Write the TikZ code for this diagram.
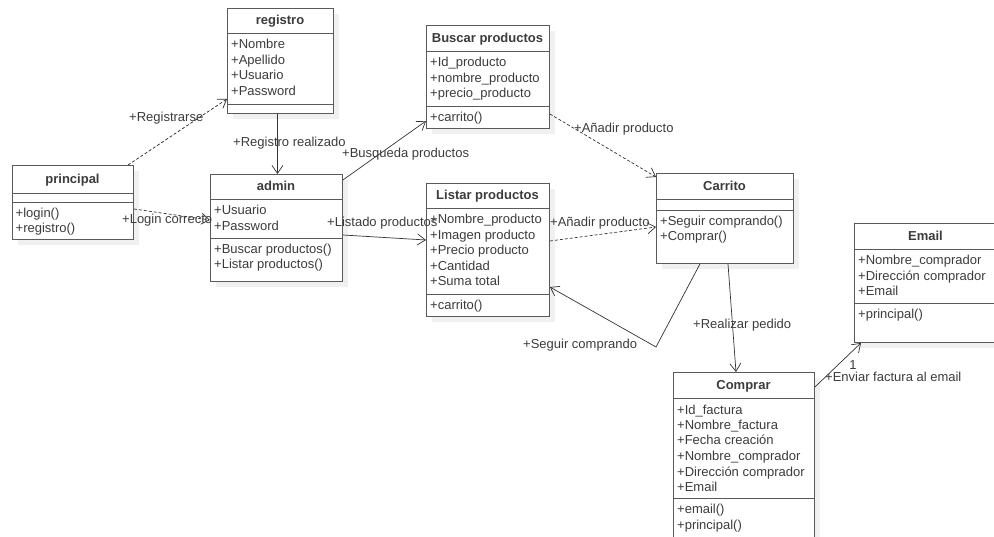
\documentclass[tikz,border=0pt]{standalone}
\usepackage{fontspec}
\setmainfont{Liberation Sans}
\usetikzlibrary{arrows.meta}
\definecolor{ln}{HTML}{5A5A5A}
\definecolor{tx}{HTML}{3C3C3C}
\definecolor{cn}{HTML}{333333}
\newcommand\umlmembers[4]{%
  \foreach \t [count=\i] in {#4} {\node[mem] (#1\i) at ({#2},{#3+15.5*(\i-1)}) {\t};}}
\begin{document}
\begin{tikzpicture}[x=1pt,y=-1pt,
  box/.style={draw=ln, line width=0.9pt, fill=white, inner sep=0, anchor=north west},
  div/.style={draw=ln, line width=0.9pt},
  ttl/.style={font=\fontsize{13}{15.5}\selectfont\bfseries, text=tx, inner sep=0, anchor=base},
  mem/.style={font=\fontsize{13}{15.5}\selectfont, text=tx, inner sep=0, anchor=base west},
  lbl/.style={font=\fontsize{13}{15.5}\selectfont, text=tx, inner sep=0, anchor=base west},
  con/.style={draw=cn, line width=0.7pt, -{Straight Barb[length=8pt,width=11pt]}},
  dep/.style={con, dash pattern=on 3pt off 2pt}]
\clip (0,0) rectangle (994,537);
\fill[white] (0,0) rectangle (994,537);
% shadows
\fill[black!6] (233,14) rectangle (339,119);
\fill[black!6] (18,171) rectangle (139,245);
\fill[black!6] (216,180) rectangle (348,287);
\fill[black!6] (432,31) rectangle (555,134);
\fill[black!6] (432,189) rectangle (555,322);
\fill[black!6] (662,179) rectangle (799,269);
\fill[black!6] (860,229) rectangle (1003,348);
\fill[black!6] (679,378) rectangle (820,560);
% registro
\node[box, minimum width=106pt, minimum height=105pt] (reg) at (227,8) {};
\draw[div] (227,33) -- (333,33);
\draw[div] (227,104) -- (333,104);
\node[ttl] (regT) at (280,25) {registro};
\umlmembers{regA}{231}{49}{+Nombre,+Apellido,+Usuario,+Password}
% principal
\node[box, minimum width=121pt, minimum height=74pt] (prin) at (12,165) {};
\draw[div] (12,193) -- (133,193);
\draw[div] (12,202) -- (133,202);
\node[ttl] (prinT) at (72.5,183.5) {principal};
\umlmembers{prinM}{15.5}{217.5}{+login(),+registro()}
% admin
\node[box, minimum width=132pt, minimum height=107pt] (adm) at (210,174) {};
\draw[div] (210,199) -- (342,199);
\draw[div] (210,238) -- (342,238);
\node[ttl] (admT) at (276,191) {admin};
\umlmembers{admA}{214}{215}{+Usuario,+Password}
\umlmembers{admM}{214}{253.5}{+Buscar productos(),+Listar productos()}
% Buscar productos
\node[box, minimum width=123pt, minimum height=103pt] (bus) at (426,25) {};
\draw[div] (426,51) -- (549,51);
\draw[div] (426,106) -- (549,106);
\node[ttl] (busT) at (487.5,42.5) {Buscar productos};
\umlmembers{busA}{430}{67}{+Id\_producto,+nombre\_producto,+precio\_producto}
\umlmembers{busM}{430}{121.5}{+carrito()}
% Listar productos
\node[box, minimum width=123pt, minimum height=133pt] (lis) at (426,183) {};
\draw[div] (426,208) -- (549,208);
\draw[div] (426,294) -- (549,294);
\node[ttl] (lisT) at (487.5,200) {Listar productos};
\umlmembers{lisA}{430}{224}{+Nombre\_producto,+Imagen producto,+Precio producto,+Cantidad,+Suma total}
\umlmembers{lisM}{430}{309.5}{+carrito()}
% Carrito
\node[box, minimum width=137pt, minimum height=90pt] (car) at (656,173) {};
\draw[div] (656,199) -- (793,199);
\draw[div] (656,210) -- (793,210);
\node[ttl] (carT) at (724.5,190.5) {Carrito};
\umlmembers{carM}{660}{225.5}{+Seguir comprando(),+Comprar()}
% Email
\node[box, minimum width=143pt, minimum height=119pt] (ema) at (854,223) {};
\draw[div] (854,249) -- (997,249);
\draw[div] (854,303) -- (997,303);
\node[ttl] (emaT) at (925.5,240.5) {Email};
\umlmembers{emaA}{858}{265}{+Nombre\_comprador,+Dirección comprador,+Email}
\umlmembers{emaM}{858}{318.5}{+principal()}
% Comprar
\node[box, minimum width=141pt, minimum height=176pt] (com) at (673,372) {};
\draw[div] (673,398) -- (814,398);
\draw[div] (673,498) -- (814,498);
\node[ttl] (comT) at (743.5,389.5) {Comprar};
\umlmembers{comA}{677}{414}{+Id\_factura,+Nombre\_factura,+Fecha creación,+Nombre\_comprador,+Dirección comprador,+Email}
\umlmembers{comM}{677}{513.5}{+email(),+principal()}
% connectors
\draw[dep] ([xshift=116pt]prin.north west) -- ([yshift=-91pt]reg.north west);
\draw[con] ([xshift=-3pt]reg.south) -- ([xshift=1pt]adm.north);
\draw[dep] ([yshift=-44pt]prin.north east) -- ([yshift=-46pt]adm.north west);
\draw[con] ([yshift=-6pt]adm.north east) -- ([yshift=-96pt]bus.north west);
\draw[con] ([yshift=-61pt]adm.north east) -- ([yshift=-57pt]lis.north west);
\draw[dep] ([yshift=-89pt]bus.north east) -- ([yshift=-4pt]car.north west);
\draw[dep] ([yshift=-58pt]lis.north east) -- ([yshift=-54pt]car.north west);
\coordinate (bend) at (656,347);
\draw[con] ([xshift=44pt]car.south west) -- (bend) -- ([yshift=-104pt]lis.north east);
\draw[con] ([xshift=72pt]car.south west) -- ([xshift=63pt]com.north west);
\draw[con] ([yshift=-15pt]com.north east) -- ([xshift=7pt]ema.south west);
% labels
\node[lbl] (l1) at (129,122) {+Registrarse};
\node[lbl] (l2) at (233,147) {+Registro realizado};
\node[lbl] (l3) at (122,224) {+Login correcto};
\node[lbl] (l4) at (342,157.5) {+Busqueda productos};
\node[lbl] (l5) at (327,226.5) {+Listado productos};
\node[lbl] (l6) at (574,133) {+Añadir producto};
\node[lbl] (l7) at (550,226.5) {+Añadir producto};
\node[lbl] (l8) at (523,349) {+Seguir comprando};
\node[lbl] (l9) at (693,329) {+Realizar pedido};
\node[lbl] (l10) at (825,382) {+Enviar factura al email};
\node[lbl, anchor=base] (l11) at (853,370) {1};
\end{tikzpicture}
\end{document}
